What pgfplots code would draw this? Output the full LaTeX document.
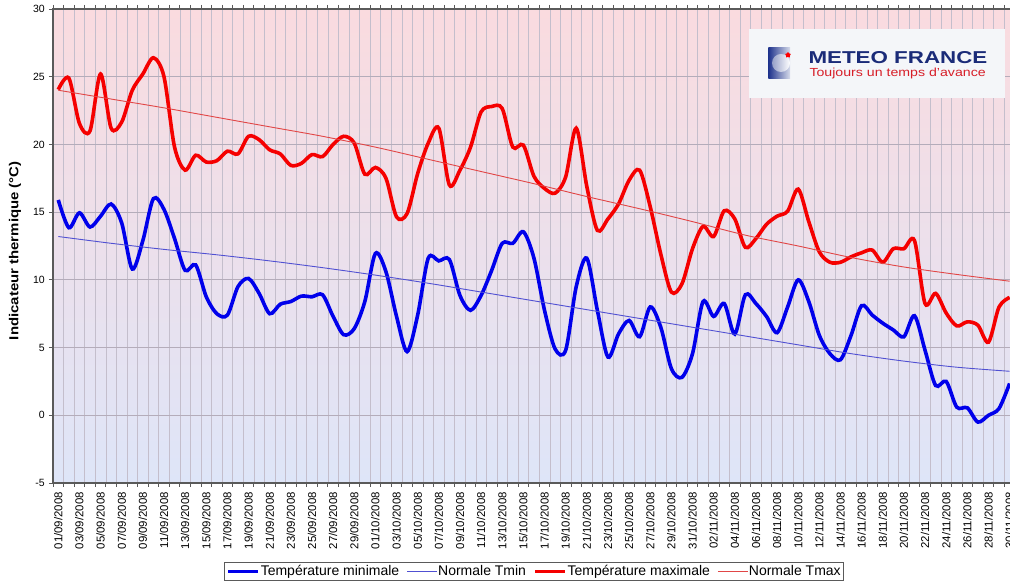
\documentclass[border=0pt]{standalone}
\usepackage{fontspec}
\setmainfont{Liberation Sans}
\usepackage{pgfplots}
\usepackage{pgfplotstable}
\pgfplotsset{compat=1.18}
\usetikzlibrary{shapes.geometric}

\definecolor{bgtop}{RGB}{250,219,223}
\definecolor{bgbot}{RGB}{222,229,248}
\definecolor{tminc}{RGB}{0,0,235}
\definecolor{tmaxc}{RGB}{245,0,0}
\definecolor{ntminc}{RGB}{80,80,210}
\definecolor{ntmaxc}{RGB}{225,70,70}
\definecolor{gridc}{RGB}{196,190,204}
\definecolor{hgridc}{RGB}{180,172,186}
\definecolor{axc}{RGB}{90,90,90}
\definecolor{mfblue}{RGB}{26,43,120}
\definecolor{mfred}{RGB}{215,30,40}

\pgfplotstableread{
day tmin tmax
0 15.9 24.05
1 13.85 24.9
2 14.95 21.55
3 13.9 21.0
4 14.7 25.2
5 15.6 21.2
6 14.2 21.65
7 10.8 24.0
8 12.9 25.2
9 16.0 26.4
10 15.2 25.0
11 13.05 19.8
12 10.7 18.1
13 11.1 19.2
14 8.75 18.7
15 7.5 18.8
16 7.4 19.5
17 9.5 19.3
18 10.1 20.6
19 9.0 20.35
20 7.5 19.6
21 8.2 19.3
22 8.4 18.45
23 8.8 18.6
24 8.75 19.25
25 8.9 19.1
26 7.3 20.0
27 5.95 20.6
28 6.4 20.1
29 8.4 17.8
30 11.95 18.3
31 10.6 17.5
32 7.3 14.65
33 4.7 14.9
34 7.4 17.85
35 11.6 20.1
36 11.4 21.2
37 11.5 17.0
38 8.85 18.1
39 7.75 19.8
40 8.85 22.4
41 10.7 22.8
42 12.7 22.65
43 12.7 19.8
44 13.55 19.95
45 11.6 17.65
46 7.75 16.75
47 4.9 16.4
48 4.8 17.6
49 9.5 21.2
50 11.6 16.9
51 7.75 13.65
52 4.3 14.5
53 6.0 15.6
54 7.0 17.35
55 5.8 18.1
56 8.0 15.4
57 6.5 11.9
58 3.45 9.1
59 2.8 9.7
60 4.55 12.3
61 8.4 13.95
62 7.3 13.2
63 8.25 15.1
64 6.0 14.5
65 8.9 12.4
66 8.25 13.05
67 7.3 14.1
68 6.1 14.7
69 8.0 15.07
70 10.0 16.7
71 8.4 14.3
72 5.9 12.06
73 4.55 11.3
74 4.1 11.3
75 5.9 11.7
76 8.1 12.0
77 7.4 12.2
78 6.8 11.3
79 6.3 12.3
80 5.8 12.3
81 7.35 12.9
82 4.8 8.25
83 2.2 9.0
84 2.5 7.55
85 0.6 6.6
86 0.55 6.9
87 -0.5 6.65
88 0.0 5.4
89 0.5 8.0
90 2.35 8.7
}\temps

\pgfplotstableread{
day ntmin ntmax
0 13.2 24.0
5 12.7 23.35
10 12.25 22.7
15 11.85 22.0
20 11.4 21.3
25 10.9 20.6
30 10.35 19.8
35 9.75 18.9
40 9.1 18.0
45 8.45 17.1
50 7.8 16.15
55 7.15 15.25
60 6.5 14.3
65 5.85 13.3
70 5.2 12.5
75 4.55 11.65
80 4.0 10.95
85 3.55 10.4
90 3.25 9.9
}\normals

\begin{document}
\begin{tikzpicture}[x=1pt,y=1pt]
\begin{axis}[
  at={(53pt,103pt)}, anchor=south west,
  scale only axis, width=961.9pt, height=474pt,
  xmin=-0.5, xmax=90.5, ymin=-5, ymax=30,
  axis background/.style={shade, top color=bgtop, bottom color=bgbot},
  axis line style={draw=axc, line width=1.1pt},
  ytick={-5,0,...,30},
  yticklabels={-5,0,5,10,15,20,25,30},
  xtick={0,2,...,90},
  xticklabels={01/09/2008,03/09/2008,05/09/2008,07/09/2008,09/09/2008,11/09/2008,13/09/2008,15/09/2008,17/09/2008,19/09/2008,21/09/2008,23/09/2008,25/09/2008,27/09/2008,29/09/2008,
    01/10/2008,03/10/2008,05/10/2008,07/10/2008,09/10/2008,11/10/2008,13/10/2008,15/10/2008,17/10/2008,19/10/2008,21/10/2008,23/10/2008,25/10/2008,27/10/2008,29/10/2008,31/10/2008,
    02/11/2008,04/11/2008,06/11/2008,08/11/2008,10/11/2008,12/11/2008,14/11/2008,16/11/2008,18/11/2008,20/11/2008,22/11/2008,24/11/2008,26/11/2008,28/11/2008,30/11/2008},
  minor xtick={-0.5,0.5,...,90.5},
  tick align=outside,
  major tick length=4pt, minor tick length=4pt,
  major x tick style={draw=none},
  tick style={draw=axc, line width=0.8pt},
  xminorgrids=true, ymajorgrids=true,
  minor grid style={draw=gridc, line width=0.6pt},
  major grid style={draw=hgridc, line width=0.9pt},
  xticklabel style={rotate=90, anchor=east, inner sep=0pt, font=\fontsize{11.4}{13}\selectfont},
  xticklabel shift=5pt,
  yticklabel style={anchor=east, inner sep=0pt, font=\fontsize{10.5}{12}\selectfont},
  yticklabel shift=4pt,
  ylabel={\scalebox{1.15}[1]{\fontsize{13}{15}\selectfont\bfseries Indicateur thermique (°C)}},
  ylabel style={at={(axis description cs:-0.0395,0.49)}, anchor=center},
  legend columns=4,
  legend image code/.code={\draw[#1] (0pt,0pt) -- (30pt,0pt);},
  legend style={at={(axis description cs:0.5,-0.1867)}, anchor=center,
    draw=axc, line width=0.8pt, fill=white,
    font=\fontsize{14}{16}\selectfont, inner sep=2pt,
    nodes={inner ysep=1pt, inner xsep=0.5pt}},
]
\addplot[tminc, line width=3.6pt, smooth, tension=0.5] table[x=day, y=tmin] {\temps};
\addlegendentry{Température minimale\kern7pt}
\addplot[ntminc, line width=0.9pt, smooth] table[x=day, y=ntmin] {\normals};
\addlegendentry{Normale Tmin\kern7pt}
\addplot[tmaxc, line width=3.6pt, smooth, tension=0.5] table[x=day, y=tmax] {\temps};
\addlegendentry{Température maximale\kern7pt}
\addplot[ntmaxc, line width=0.9pt, smooth] table[x=day, y=ntmax] {\normals};
\addlegendentry{Normale Tmax}
\end{axis}
% logo
\fill[fill={rgb,255:red,244;green,246;blue,249}] (749,488.3) rectangle (1005,557);
\shade[left color={rgb,255:red,30;green,50;blue,140}, right color={rgb,255:red,215;green,220;blue,235}] (768.3,507.7) rectangle (790,538.3);
\shade[left color={rgb,255:red,150;green,160;blue,200}, right color=white] (781,523) circle (9);
\node[star, star points=5, fill=red, inner sep=0pt, minimum size=6pt] at (788,531) {};
\node[anchor=base west, inner sep=0pt, text=mfblue] at (808.3,522.7) {\scalebox{1.3}[1]{\fontsize{17.2}{18}\selectfont\bfseries METEO FRANCE}};
\node[anchor=base west, inner sep=0pt, text=mfred] at (809.3,509.3) {\scalebox{1.21}[1]{\fontsize{11.7}{13}\selectfont Toujours un temps d'avance}};
\pgfresetboundingbox
\path[use as bounding box] (0,0) rectangle (1010,586);
\end{tikzpicture}
\end{document}
